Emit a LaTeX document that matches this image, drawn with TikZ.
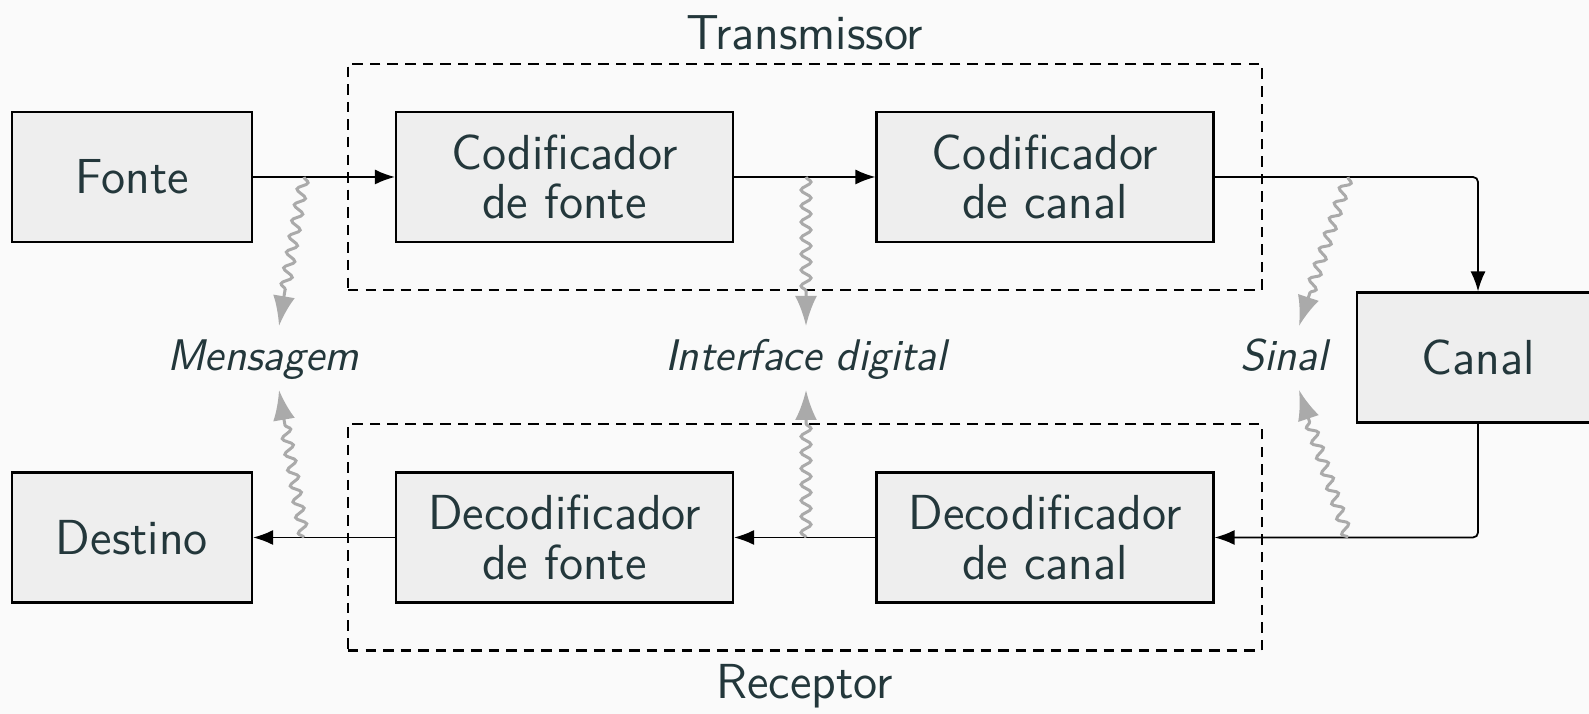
\documentclass[tikz,border=0pt]{standalone}
\usetikzlibrary{arrows.meta,decorations.pathmorphing,fit}
\definecolor{txtcol}{HTML}{23373B}
\definecolor{bgcol}{HTML}{FAFAFA}
\definecolor{boxcol}{HTML}{EEEEEE}
\definecolor{wavecol}{HTML}{AAAAAA}
\begin{document}
\begin{tikzpicture}[font=\sffamily\fontsize{14}{14}\selectfont,text=txtcol,
    block/.style={draw,semithick,fill=boxcol,minimum height=1.30cm,align=center},
    conn/.style={line width=0.5pt,-{Latex[length=2mm,width=1.5mm]}},
    wave/.style={wavecol,line width=0.85pt,-{Latex[length=3mm,width=2.2mm]},decorate,
        decoration={snake,amplitude=0.5mm,segment length=1.6mm,post length=3mm}},
    group/.style={draw,semithick,densely dashed,inner sep=0.47cm,label distance=0.12cm},
    tag/.style={font=\sffamily\itshape\fontsize{12.6}{14}\selectfont,anchor=base}]
    \useasboundingbox[fill=bgcol] (0,0) rectangle (15.89,7.14);

    \node[block,minimum width=2.40cm] (fonte) at (1.32,5.37) {Fonte};
    \node[block,minimum width=3.37cm] (codfonte) at (5.645,5.37) {Codificador\\de fonte};
    \node[block,minimum width=3.37cm] (codcanal) at (10.45,5.37) {Codificador\\de canal};
    \node[block,minimum width=2.42cm] (canal) at (14.78,3.565) {Canal};
    \node[block,minimum width=3.37cm] (deccanal) at (10.45,1.765) {Decodificador\\de canal};
    \node[block,minimum width=3.37cm] (decfonte) at (5.645,1.765) {Decodificador\\de fonte};
    \node[block,minimum width=2.40cm] (destino) at (1.32,1.765) {Destino};

    \node[group,fit=(codfonte)(codcanal),label=above:Transmissor] (tx) {};
    \node[group,fit=(decfonte)(deccanal),label=below:Receptor] (rx) {};

    \node[tag] (msg) at (2.63,3.43) {Mensagem};
    \node[tag] (iface) at (8.06,3.43) {Interface digital};
    \node[tag] (sinal) at (12.84,3.43) {Sinal};

    \draw[conn] (fonte) -- (codfonte);
    \draw[conn] (codfonte) -- (codcanal);
    \draw[conn,rounded corners=0.5mm] (codcanal.east) -| (canal.north);
    \draw[conn,rounded corners=0.5mm] (canal.south) |- (deccanal.east);
    \draw[conn] (deccanal) -- (decfonte);
    \draw[conn] (decfonte) -- (destino);

    \coordinate (w1) at (3.04,5.37);  \coordinate (w1e) at (2.79,3.88);
    \coordinate (w2) at (3.04,1.765); \coordinate (w2e) at (2.79,3.24);
    \coordinate (w3) at (8.06,5.37);  \coordinate (w3e) at (8.06,3.88);
    \coordinate (w4) at (8.06,1.765); \coordinate (w4e) at (8.06,3.24);
    \coordinate (w5) at (13.48,5.37); \coordinate (w5e) at (12.99,3.88);
    \coordinate (w6) at (13.48,1.765); \coordinate (w6e) at (12.99,3.24);
    \draw[wave] (w1) -- (w1e);
    \draw[wave] (w2) -- (w2e);
    \draw[wave] (w3) -- (w3e);
    \draw[wave] (w4) -- (w4e);
    \draw[wave] (w5) -- (w5e);
    \draw[wave] (w6) -- (w6e);
\end{tikzpicture}
\end{document}
